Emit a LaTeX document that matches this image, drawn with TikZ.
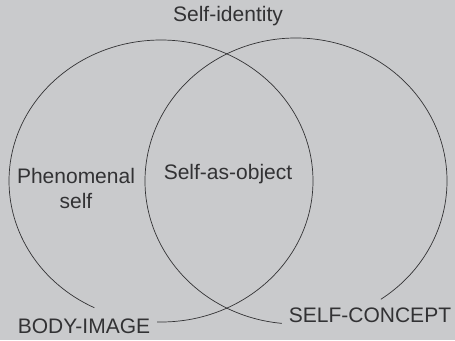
\documentclass[tikz,border=0pt]{standalone}
\usepackage{fontspec}
\setmainfont{Liberation Sans}
\definecolor{paper}{RGB}{201,202,204}
\definecolor{ink}{RGB}{50,50,52}
\begin{document}
\begin{tikzpicture}[x=1pt,y=1pt,
  label/.style={text=ink,font=\fontsize{21}{25}\selectfont,inner sep=0pt,align=center},
  rim/.style={draw=ink,line width=0.7pt}]
  % page and background
  \fill[paper] (0,0) rectangle (455,-340);
  \useasboundingbox (0,0) rectangle (455,-340);

  % centres of the two overlapping ovals
  \coordinate (lc) at (161,-181);
  \coordinate (rc) at (296,-181);

  % left oval (gap at the bottom for BODY-IMAGE)
  \draw[rim] ([shift={(268.5:152 and 141)}]lc)
    arc[start angle=268.5, end angle=604, x radius=152, y radius=141];
  % right oval (gap at the bottom for SELF-CONCEPT)
  \draw[rim] ([shift={(304.2:151 and 143)}]rc)
    arc[start angle=304.2, end angle=624.6, x radius=151, y radius=143];

  % labels
  \node[label] (identity) at (228,-16) {Self-identity};
  \node[label] (phenom) at (76,-188) {Phenomenal\\self};
  \node[label] (object) at (228,-174) {Self-as-object};
  \node[label,anchor=base] (body) at (84,-333) {BODY-IMAGE};
  \node[label,anchor=base] (concept) at (370,-322) {SELF-CONCEPT};
\end{tikzpicture}
\end{document}
